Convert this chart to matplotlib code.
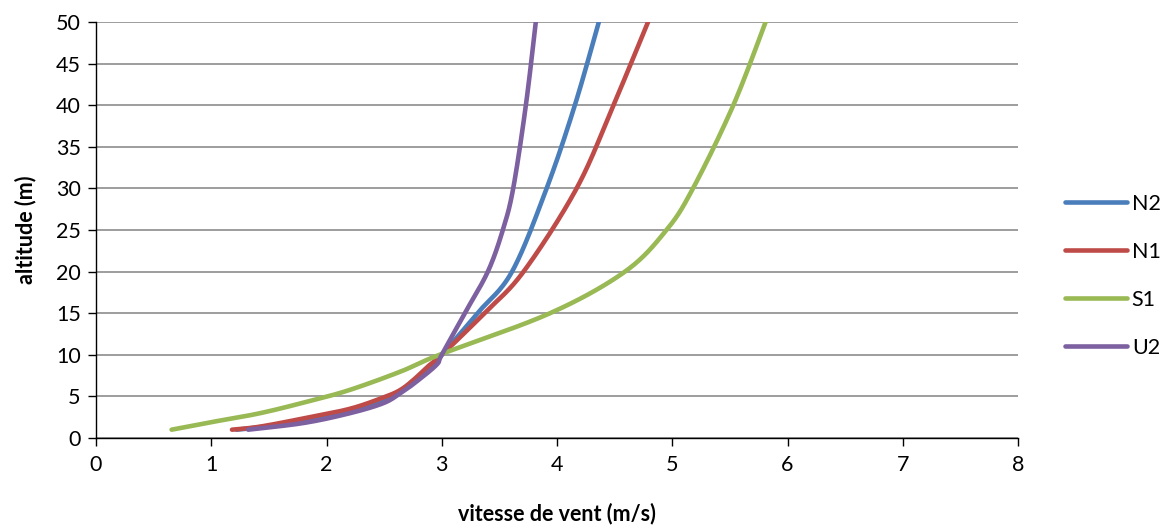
import matplotlib
matplotlib.use("Agg")
import matplotlib.pyplot as plt
import numpy as np

# wind speed (m/s) and altitude (m)
N2 = [1.22, 1.45, 1.82, 2.20, 2.49, 2.64, 2.77, 2.90, 3.0, 3.31, 3.61, 3.91, 4.155, 4.363]
alt_N2 = [1, 1.35, 2.2, 3.3, 4.6, 5.6, 6.95, 8.7, 10, 15, 20, 30, 40, 50]

N1 = [1.18, 1.42, 1.80, 2.20, 2.49, 2.64, 2.76, 2.88, 3.0, 3.37, 3.71, 4.17, 4.49, 4.79]
alt_N1 = [1, 1.36, 2.35, 3.5, 4.85, 5.77, 7.05, 8.6, 10, 15, 20, 30, 40, 50]

S1 = [0.656, 0.99, 1.42, 1.856, 2.20, 2.64, 2.98, 3.94, 4.59, 4.95, 5.18, 5.53, 5.81]
alt_S1 = [1, 1.88, 2.97, 4.45, 5.77, 7.97, 10, 15, 20, 25, 30, 40, 50]

U2 = [1.32, 1.80, 2.20, 2.49, 2.64, 2.78, 2.955, 3.0, 3.20, 3.40, 3.53, 3.62, 3.73, 3.816]
alt_U2 = [1, 1.8, 2.97, 4.17, 5.37, 6.77, 8.8, 10, 15, 20, 25, 30, 40, 50]

series_names = ["N2", "N1", "S1", "U2"]
series_colors = ["#4A7EBB", "#BE4B48", "#98B954", "#7D60A0"]
series_x = [N2, N1, S1, U2]
series_y = [alt_N2, alt_N1, alt_S1, alt_U2]

xticks = [0, 1, 2, 3, 4, 5, 6, 7, 8]
yticks = [0, 5, 10, 15, 20, 25, 30, 35, 40, 45, 50]


def smooth_path(xs, ys, n=30):
    """Excel-style smoothed line (Catmull-Rom Bezier through the points)."""
    x = np.asarray(xs, float)
    y = np.asarray(ys, float)
    px = np.concatenate([[x[0]], x, [x[-1]]])
    py = np.concatenate([[y[0]], y, [y[-1]]])
    out_x, out_y = [x[0]], [y[0]]
    t = np.linspace(0, 1, n)[1:]
    for i in range(1, len(px) - 2):
        p0 = np.array([px[i], py[i]])
        p3 = np.array([px[i + 1], py[i + 1]])
        c1 = p0 + (np.array([px[i + 1], py[i + 1]]) - np.array([px[i - 1], py[i - 1]])) / 6.0
        c2 = p3 - (np.array([px[i + 2], py[i + 2]]) - np.array([px[i], py[i]])) / 6.0
        b = ((1 - t) ** 3)[:, None] * p0 + (3 * (1 - t) ** 2 * t)[:, None] * c1 \
            + (3 * (1 - t) * t ** 2)[:, None] * c2 + (t ** 3)[:, None] * p3
        out_x.extend(b[:, 0])
        out_y.extend(b[:, 1])
    return np.array(out_x), np.array(out_y)


plt.rcParams['font.family'] = ['Lato', 'DejaVu Sans']

fig = plt.figure(figsize=(11.61, 5.30), dpi=100)
ax = fig.add_axes([96/1161, 92/530, (1018-96)/1161, (438-22)/530])

for name, xs, ys, c in zip(series_names, series_x, series_y, series_colors):
    sx, sy = smooth_path(xs, ys)
    ax.plot(sx, sy, color=c, lw=3.3, label=name, solid_capstyle='round',
            solid_joinstyle='round')

ax.set_xlim(0, 8)
ax.set_ylim(0, 50)
ax.set_xticks(xticks)
ax.set_yticks(yticks)
ax.yaxis.grid(True, color='#8c8c8c', lw=1.2)
ax.set_axisbelow(True)
for s in ['top', 'right']:
    ax.spines[s].set_visible(False)
for s in ['left', 'bottom']:
    ax.spines[s].set_color('black')
    ax.spines[s].set_linewidth(1.0)
ax.tick_params(axis='both', direction='out', length=6, width=1.0,
               labelsize=15.5, color='black')
ax.tick_params(axis='x', pad=6)
ax.tick_params(axis='y', pad=5)

ax.set_xlabel("vitesse de vent (m/s)", fontsize=15.5, fontweight='bold', labelpad=20)
ax.set_ylabel("altitude (m)", fontsize=15.5, fontweight='bold', labelpad=14)

leg = ax.legend(loc='center left', bbox_to_anchor=(1.03, 0.39), frameon=False,
                fontsize=15.5, handlelength=2.9, handletextpad=0.2,
                labelspacing=1.3)
for line in leg.get_lines():
    line.set_linewidth(3.3)
    line.set_solid_capstyle('round')

fig.savefig("out.png", dpi=100)
